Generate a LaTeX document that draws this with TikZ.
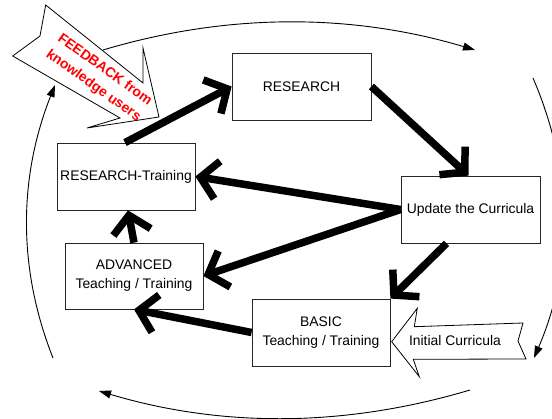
\documentclass[tikz,border=0pt]{standalone}
\usepackage{fontspec}
\setmainfont{Liberation Sans}
\usetikzlibrary{arrows.meta}
\begin{document}
\begin{tikzpicture}[x=1pt,y=-1pt,
  box/.style={draw=black!85, line width=0.8pt, fill=white, minimum width=138pt, minimum height=67pt, inner sep=0pt, align=center, font=\fontsize{13.9}{19}\selectfont},
  thickarrow/.style={line width=7.5pt, -{Straight Barb[length=17pt,width=38pt]}},
  thinarc/.style={line width=0.9pt, -{Triangle[length=12pt,width=8pt]}},
  blockarrow/.style={draw=black, line width=0.8pt, fill=white, line join=miter},
  lbl/.style={font=\fontsize{13.9}{17}\selectfont, inner sep=0pt}
]
\useasboundingbox (0,0) rectangle (552,419);
\clip (0,0) rectangle (552,419);

% circular arrows
\coordinate (t0) at (103,50);  \coordinate (t1) at (475,50);
\coordinate (r0) at (533,78);  \coordinate (r1) at (534,358);
\coordinate (b0) at (470,390); \coordinate (b1) at (99,391);
\coordinate (l0) at (53,358);  \coordinate (l1) at (55,85);
\draw[thinarc] (t0) .. controls (227,13) and (351,13) .. (t1);
\draw[thinarc] (r0) .. controls (573,171) and (574,265) .. (r1);
\draw[thinarc] (b0) .. controls (346,427) and (223,428) .. (b1);
\draw[thinarc] (l0) .. controls (17,267) and (19,176) .. (l1);

% feedback block arrow
\draw[blockarrow] (45.7,5) -- (143,83) -- (143,48) -- (159,117) -- (87,128)
  -- (120,118) -- (12.7,56) -- (40,36) -- cycle;
\node (fb) [rotate=-35.5, text=red, align=center, inner sep=0pt,
  font=\bfseries\fontsize{13.9}{19.5}\selectfont] at (99,78) {FEEDBACK from\\knowledge users};

% initial curricula block arrow
\draw[blockarrow] (391.7,341.7) -- (417.3,308.3) -- (414.3,326.7) -- (523,323)
  -- (518,341) -- (526,359) -- (413.3,359.3) -- (419.3,376.7) -- cycle;
\node (init) [lbl] at (455,341) {Initial Curricula};

% boxes
\node (research) [box, minimum width=139pt] at (301.5,86.5) {RESEARCH};
\node (rt) [box] at (126,176.5) {RESEARCH-Training};
\node (adv) [box, minimum height=66pt] at (134,276) {ADVANCED\\Teaching / Training};
\node (upd) [box, minimum width=139pt] at (470.5,209.5) {Update the Curricula};
\node (basic) [box] at (321,332.5) {BASIC\\Teaching / Training};

% thick arrows
\draw[thickarrow] ([xshift=-1pt]rt.north) -- (research.west);
\draw[thickarrow] (research.east) -- ([xshift=-2pt]upd.north);
\draw[thickarrow] (upd.west) -- (rt.east);
\draw[thickarrow] (upd.west) -- (adv.east);
\draw[thickarrow] ([xshift=-24pt]upd.south) -- (basic.north east);
\draw[thickarrow] (adv.north) -- ([xshift=2pt]rt.south);
\draw[thickarrow] (basic.west) -- (adv.south);
\end{tikzpicture}
\end{document}
